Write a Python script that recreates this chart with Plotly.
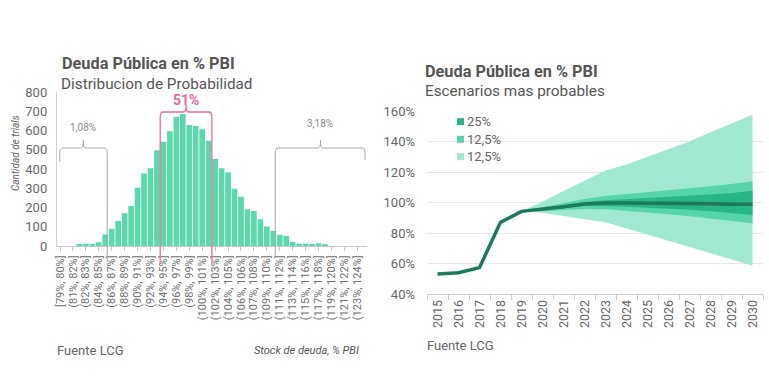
import plotly.graph_objects as go

# ---------------- data: left chart (histogram of trials) ----------------
bin_index = list(range(48))
trial_counts = [0, 0, 0, 7, 12, 12, 20, 60, 90, 130, 170, 208, 303, 376, 404, 497,
                541, 596, 671, 686, 629, 623, 606, 547, 452, 404, 383, 298, 256, 191, 182, 139,
                101, 78, 59, 52, 21, 12, 12, 10, 14, 10, 0, 0, 0, 0, 0, 0]
bin_tick_index = list(range(0, 48, 2))
bin_labels = ["[79%, 80%]", "(81%, 82%]", "(82%, 83%]", "(84%, 85%]", "(86%, 87%]", "(88%, 89%]",
              "(90%, 91%]", "(92%, 93%]", "(94%, 95%]", "(96%, 97%]", "(98%, 99%]", "(100%, 101%]",
              "(102%, 103%]", "(104%, 105%]", "(106%, 106%]", "(107%, 108%]", "(109%, 110%]",
              "(111%, 112%]", "(113%, 114%]", "(115%, 116%]", "(117%, 118%]", "(119%, 120%]",
              "(121%, 122%]", "(123%, 124%]"]
left_tail_label = "1,08%"
center_label = "51%"
right_tail_label = "3,18%"

# ---------------- data: right chart (fan chart) ----------------
years = [str(y) for y in range(2015, 2031)]
debt_median = [53.1, 54.0, 57.3, 87.0, 94.2, 95.5, 97.2, 99.0, 99.7, 99.7, 99.7, 99.7, 99.7, 99.2, 98.9, 98.8]
fan_years = years[4:]
dark_upper = [94.2, 96.2, 98.2, 100.3, 101.5, 102.2, 102.8, 103.5, 104.3, 105.2, 106.3, 107.7]
dark_lower = [94.2, 94.9, 96.3, 97.7, 97.6, 97.2, 96.7, 96.0, 95.2, 94.3, 93.2, 91.8]
mid_upper = [94.2, 97.0, 99.8, 102.3, 104.3, 105.5, 106.8, 108.0, 109.3, 110.7, 112.2, 114.0]
mid_lower = [94.2, 94.3, 95.0, 95.7, 95.5, 94.5, 93.5, 92.3, 91.0, 89.6, 88.0, 86.4]
light_upper = [94.2, 100.5, 107.5, 114.5, 121.0, 125.0, 130.0, 135.0, 140.0, 146.0, 151.5, 157.5]
light_lower = [94.2, 93.3, 91.1, 89.0, 87.0, 83.0, 79.0, 75.0, 71.0, 67.0, 62.8, 58.6]
legend_labels = ["25%", "12,5%", "12,5%"]

# ---------------- styles ----------------
FONT = "Roboto"
BAR = "#5dd8aa"
LIGHT = "#a0e8d2"
MID = "#56d6a8"
DARK = "#28b686"
LINE = "#1e7a58"
PINK = "#f2679d"
GREY_TXT = "#666666"
TITLE_TXT = "#555555"
W, H = 769, 388


def py(p):  # pixel row -> paper y
    return 1 - p / H


def px(p):  # pixel column -> paper x
    return p / W


fig = go.Figure()

fig.add_trace(go.Bar(x=bin_index, y=trial_counts, marker=dict(color=BAR, line=dict(width=0)),
                     xaxis="x", yaxis="y", showlegend=False, hoverinfo="skip"))

def poly(upper, lower, color):
    return go.Scatter(x=fan_years + fan_years[::-1], y=upper + lower[::-1], fill="toself",
                      fillcolor=color, line=dict(width=0), mode="lines",
                      xaxis="x2", yaxis="y2", showlegend=False, hoverinfo="skip")

fig.add_trace(go.Scatter(x=years, y=[None] * len(years), mode="lines", xaxis="x2", yaxis="y2",
                         showlegend=False))
fig.add_trace(poly(light_upper, light_lower, LIGHT))
fig.add_trace(poly(mid_upper, mid_lower, MID))
fig.add_trace(poly(dark_upper, dark_lower, DARK))
fig.add_trace(go.Scatter(x=years, y=debt_median, mode="lines", line=dict(color=LINE, width=3.5),
                         xaxis="x2", yaxis="y2", showlegend=False))

fig.update_layout(
    width=W, height=H, margin=dict(l=0, r=0, t=0, b=0, autoexpand=False),
    paper_bgcolor="white", plot_bgcolor="white",
    font=dict(family=FONT, color=GREY_TXT),
    bargap=0.12,
    xaxis=dict(domain=[px(56.8), px(367)], range=[-0.5, 47.5], tickmode="array",
               tickvals=bin_tick_index, ticktext=bin_labels, tickangle=-90,
               tickfont=dict(size=11, color="#6e6e6e"), showline=True, linecolor="#c8c8c8",
               ticks="outside", ticklen=4, tickcolor="#c8c8c8", showgrid=False, zeroline=False,
               automargin=False),
    yaxis=dict(domain=[py(246), py(92)], range=[0, 800], dtick=100, showline=True,
               linecolor="#d0d0d0", showgrid=False, zeroline=False, ticks="",
               tickfont=dict(size=13, color=GREY_TXT), ticklabelstandoff=6, automargin=False),
    xaxis2=dict(domain=[px(427), px(763)], type="category", categoryorder="array",
                categoryarray=years, range=[-0.5, len(years) - 0.5], tickson="boundaries",
                ticks="outside", ticklen=5,
                tickcolor="#cccccc", showline=True, linecolor="#cccccc", tickangle=-90,
                tickfont=dict(size=12.5, color=GREY_TXT), showgrid=False, anchor="y2",
                automargin=False),
    yaxis2=dict(domain=[py(294), py(111)], range=[40, 160], dtick=20, ticksuffix="%",
                showgrid=True, gridcolor="#e6e6e6", gridwidth=1, zeroline=False,
                tickfont=dict(size=13, color=GREY_TXT), ticklabelstandoff=11, anchor="x2",
                automargin=False),
)

ann = []
# titles
ann.append(dict(text="<b>Deuda Pública en % PBI</b>", x=px(60), y=py(64), xanchor="left", yanchor="middle",
                font=dict(size=16.3, color=TITLE_TXT)))
ann.append(dict(text="Distribucion de Probabilidad", x=px(59), y=py(84), xanchor="left", yanchor="middle",
                font=dict(size=15.3, color=TITLE_TXT)))
ann.append(dict(text="<b>Deuda Pública en % PBI</b>", x=px(423), y=py(71), xanchor="left", yanchor="middle",
                font=dict(size=16.3, color=TITLE_TXT)))
ann.append(dict(text="Escenarios mas probables", x=px(423), y=py(91), xanchor="left", yanchor="middle",
                font=dict(size=15.3, color=TITLE_TXT)))
# axis title
ann.append(dict(text="<i>Cantidad de trials</i>", x=px(16), y=py(153), textangle=-90,
                xanchor="center", yanchor="middle", font=dict(size=10, color=GREY_TXT)))
# footers
ann.append(dict(text="Fuente LCG", x=px(55), y=py(350), xanchor="left", yanchor="middle",
                font=dict(size=13, color=GREY_TXT)))
ann.append(dict(text="<i>Stock de deuda, % PBI</i>", x=px(361), y=py(350), xanchor="right", yanchor="middle",
                font=dict(size=11, color="#555555")))
ann.append(dict(text="Fuente LCG", x=px(425), y=py(345), xanchor="left", yanchor="middle",
                font=dict(size=13, color=GREY_TXT)))
# bracket labels
ann.append(dict(text=left_tail_label, x=3.6, xref="x", y=py(128), xanchor="center", yanchor="middle",
                font=dict(size=10, color="#8a8a8a")))
ann.append(dict(text=right_tail_label, x=40.3, xref="x", y=py(123), xanchor="center", yanchor="middle",
                font=dict(size=10, color="#8a8a8a")))
ann.append(dict(text="<b>" + center_label + "</b>", x=19.5, xref="x", y=py(100), xanchor="center",
                yanchor="middle", font=dict(size=14, color=PINK)))
# legend
legend_rows = [121.7, 139.3, 156.7]
for lab, col, row in zip(legend_labels, [DARK, MID, LIGHT], legend_rows):
    ann.append(dict(text=lab, x=px(465), y=py(row), xanchor="left", yanchor="middle",
                    font=dict(size=13, color=GREY_TXT)))
for a in ann:
    a.setdefault("xref", "paper")
    a.setdefault("yref", "paper")
    a["showarrow"] = False
fig.update_layout(annotations=ann)

shapes = []
for col, row in zip([DARK, MID, LIGHT], legend_rows):
    shapes.append(dict(type="rect", xref="paper", yref="paper", x0=px(457), x1=px(464),
                       y0=py(row + 3.5), y1=py(row - 3.5), fillcolor=col, line=dict(width=0)))


def brace(x0, x1, xm, ytop, ypeak, yb0, yb1):
    rx, ry = 0.45, 5 / H
    t, p, b0, b1 = py(ytop), py(ypeak), py(yb0), py(yb1)
    return (f"M {x0},{b0} L {x0},{t - ry} Q {x0},{t} {x0 + rx},{t} L {xm - rx},{t} "
            f"Q {xm},{t} {xm},{t + ry} L {xm},{p} M {xm},{t + ry} Q {xm},{t} {xm + rx},{t} "
            f"L {x1 - rx},{t} Q {x1},{t} {x1},{t - ry} L {x1},{b1}")


shapes.append(dict(type="path", xref="x", yref="paper", path=brace(-0.05, 7.3, 3.6, 148, 140, 162, 262),
                   line=dict(color="#a8a8a8", width=1)))
shapes.append(dict(type="path", xref="x", yref="paper", path=brace(33.3, 47.2, 40.3, 148, 140, 258, 160),
                   line=dict(color="#a8a8a8", width=1)))
shapes.append(dict(type="path", xref="x", yref="paper", path=brace(15.5, 23.5, 19.5, 112, 105, 263, 263),
                   line=dict(color=PINK, width=1.3)))
fig.update_layout(shapes=shapes)

fig.write_html("out.html", config={"displayModeBar": False},
               post_script="document.body.style.margin='0';document.body.style.overflow='hidden';")
